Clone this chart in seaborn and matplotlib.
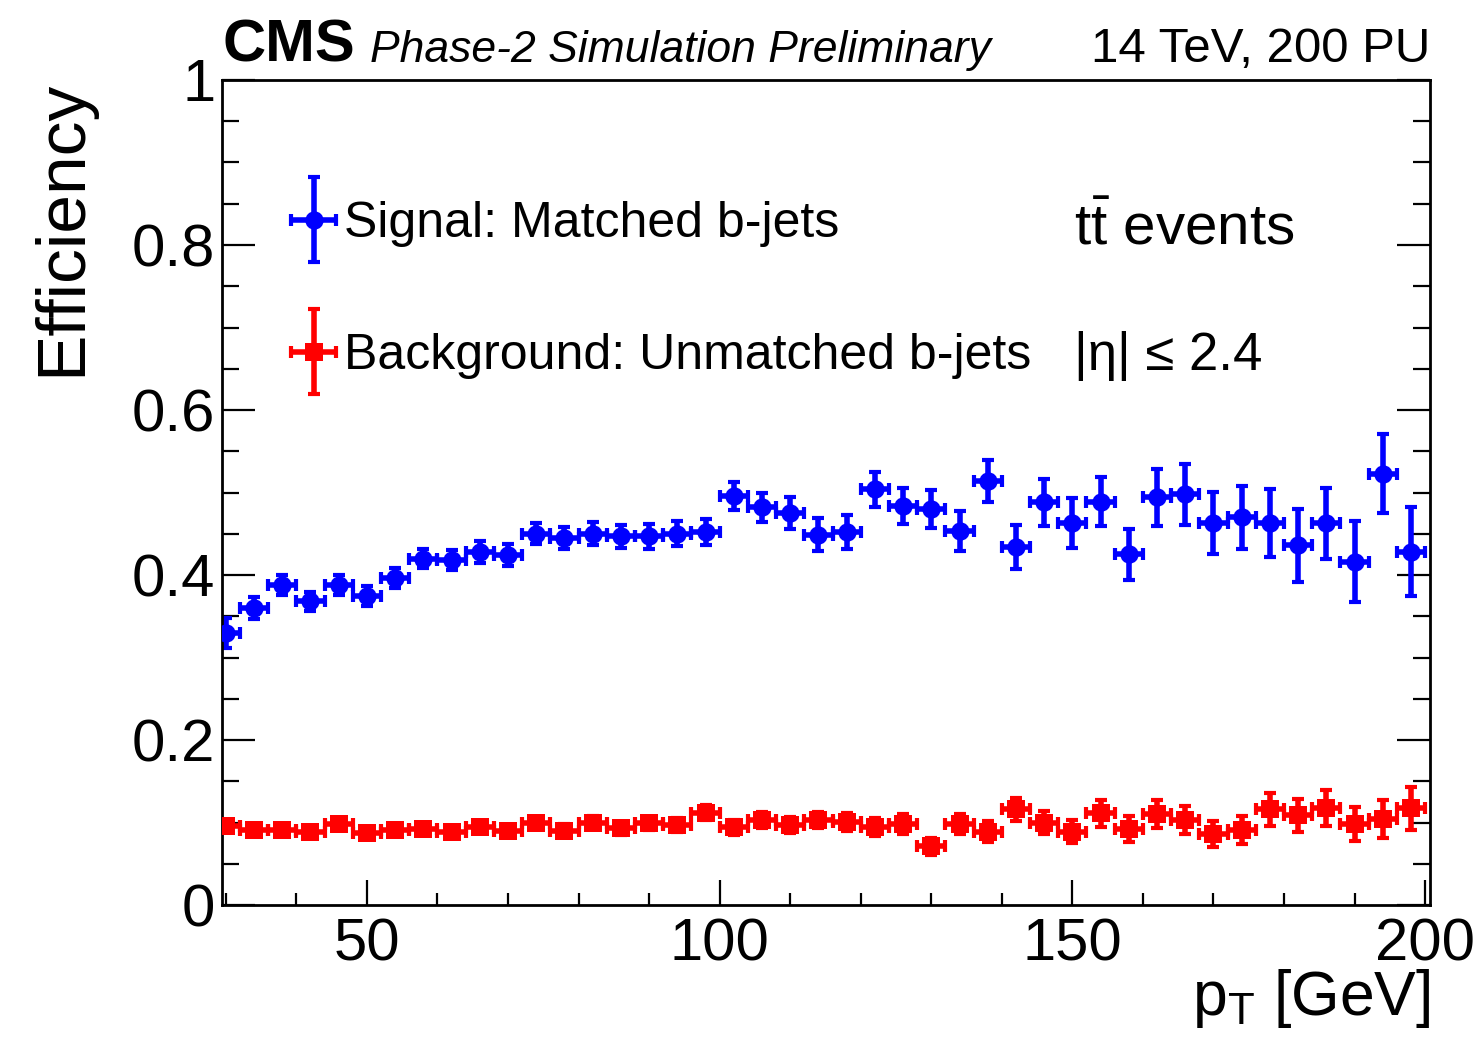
import numpy as np
import pandas as pd
import matplotlib
matplotlib.use("Agg")
import matplotlib.pyplot as plt
from matplotlib.ticker import MultipleLocator, FuncFormatter
from matplotlib.legend_handler import HandlerErrorbar, HandlerTuple
from matplotlib.container import ErrorbarContainer
import seaborn as sns

# Jet pT binning (GeV): 4 GeV wide bins centred at 30, 34, ..., 198
pt_half_width = 2.0
pt_centers = np.arange(30, 199, 4)

# b-tagging efficiency for jets matched to b quarks (signal)
sig_eff = [0.330, 0.360, 0.388, 0.368, 0.388, 0.375, 0.396, 0.420, 0.418, 0.428,
           0.424, 0.450, 0.445, 0.450, 0.447, 0.447, 0.450, 0.452, 0.496, 0.482,
           0.475, 0.449, 0.452, 0.504, 0.484, 0.480, 0.453, 0.514, 0.434, 0.488,
           0.463, 0.489, 0.425, 0.494, 0.498, 0.463, 0.470, 0.463, 0.436, 0.463,
           0.416, 0.523, 0.428]
sig_err = [0.018, 0.013, 0.012, 0.012, 0.012, 0.012, 0.012, 0.012, 0.012, 0.013,
           0.013, 0.013, 0.013, 0.014, 0.014, 0.015, 0.015, 0.016, 0.017, 0.018,
           0.019, 0.020, 0.021, 0.021, 0.022, 0.023, 0.024, 0.026, 0.027, 0.028,
           0.030, 0.030, 0.031, 0.035, 0.037, 0.038, 0.038, 0.041, 0.044, 0.043,
           0.049, 0.048, 0.054]

# mistag rate for unmatched jets (background)
bkg_eff = [0.096, 0.091, 0.091, 0.089, 0.098, 0.087, 0.091, 0.092, 0.088, 0.095,
           0.090, 0.100, 0.090, 0.100, 0.093, 0.099, 0.097, 0.112, 0.094, 0.103,
           0.097, 0.103, 0.101, 0.095, 0.098, 0.071, 0.098, 0.089, 0.116, 0.100,
           0.089, 0.111, 0.092, 0.110, 0.103, 0.086, 0.091, 0.116, 0.109, 0.118,
           0.098, 0.104, 0.117]
bkg_err = [0.006, 0.006, 0.006, 0.006, 0.006, 0.006, 0.006, 0.007, 0.007, 0.007,
           0.007, 0.007, 0.008, 0.008, 0.008, 0.008, 0.009, 0.009, 0.009, 0.010,
           0.010, 0.010, 0.011, 0.011, 0.012, 0.010, 0.012, 0.013, 0.014, 0.014,
           0.014, 0.016, 0.016, 0.017, 0.017, 0.016, 0.017, 0.020, 0.020, 0.022,
           0.021, 0.023, 0.026]

sig_label = "Signal: Matched b-jets"
bkg_label = "Background: Unmatched b-jets"

sns.set_theme(style="ticks")
plt.rcParams.update({
    "mathtext.fontset": "custom",
    "mathtext.rm": "Liberation Sans",
    "mathtext.it": "Liberation Sans:italic",
    "mathtext.bf": "Liberation Sans:bold",
    "mathtext.sf": "Liberation Sans",
    "axes.edgecolor": "black",
    "axes.linewidth": 2.0,
    "xtick.color": "black",
    "ytick.color": "black",
    "text.color": "black",
    "axes.labelcolor": "black",
})
plt.rcParams["font.family"] = ["Liberation Sans", "DejaVu Sans"]

df = pd.DataFrame({
    "pt": np.concatenate([pt_centers, pt_centers]),
    "eff": sig_eff + bkg_eff,
    "err": sig_err + bkg_err,
    "sample": [sig_label] * len(pt_centers) + [bkg_label] * len(pt_centers),
})

fig = plt.figure(figsize=(14.81, 10.47), dpi=100)
ax = fig.add_axes([0.1501, 0.1356, 0.8155, 0.788])

styles = {
    sig_label: dict(color="#0000ff", marker="o"),
    bkg_label: dict(color="#ff0000", marker="s"),
}

handles = []
for name, st in styles.items():
    sub = df[df["sample"] == name]
    eb = ax.errorbar(sub["pt"], sub["eff"], xerr=pt_half_width, yerr=sub["err"],
                     fmt="none", ecolor=st["color"], elinewidth=4.0,
                     capsize=4.5, capthick=3.0, zorder=2)
    n_before = len(ax.collections)
    sns.scatterplot(data=sub, x="pt", y="eff", color=st["color"], marker=st["marker"],
                    s=175, linewidth=0, legend=False, ax=ax, zorder=3)
    sc = ax.collections[n_before]
    handles.append((eb, sc))

ax.set_xlim(29.5, 200.7)
ax.set_ylim(0, 1)
ax.xaxis.set_major_locator(MultipleLocator(50))
ax.xaxis.set_minor_locator(MultipleLocator(10))
ax.yaxis.set_major_locator(MultipleLocator(0.2))
ax.yaxis.set_minor_locator(MultipleLocator(0.05))
ax.yaxis.set_major_formatter(FuncFormatter(
    lambda v, p: "0" if abs(v) < 1e-9 else ("1" if abs(v - 1) < 1e-9 else f"{v:.1f}")))

ax.tick_params(which="both", direction="in", top=False, right=True,
               width=1.6, labelsize=43)
ax.tick_params(axis="y", which="major", length=24, pad=5)
ax.tick_params(axis="y", which="minor", length=12)
ax.tick_params(axis="x", which="major", length=18, pad=9)
ax.tick_params(axis="x", which="minor", length=9)

ax.set_xlabel(r"$\mathrm{p}_{\mathrm{T}}$ [GeV]", fontsize=45, loc="right")
ax.xaxis.set_label_coords(1.0, -0.075)
ax.set_ylabel("Efficiency", fontsize=50, loc="top")
ax.yaxis.set_label_coords(-0.106, 1.0)

# header
ax.text(0.0, 1.022, "CMS", transform=ax.transAxes, fontsize=43,
        fontweight="bold", ha="left", va="baseline")
ax.text(0.1226, 1.022, "Phase-2 Simulation Preliminary", transform=ax.transAxes,
        fontsize=32, style="italic", ha="left", va="baseline")
ax.text(1.0, 1.022, "14 TeV, 200 PU", transform=ax.transAxes, fontsize=35.5,
        ha="right", va="baseline")

# selection info
ax.text(0.705, 0.801, r"$\mathrm{t\bar{t}}$ events", transform=ax.transAxes,
        fontsize=42, ha="left", va="baseline")
ax.text(0.705, 0.648, "|η| ≤ 2.4", transform=ax.transAxes,
        fontsize=38, ha="left", va="baseline")

ax.legend(handles, [sig_label, bkg_label],
          handler_map={ErrorbarContainer: HandlerErrorbar(xerr_size=0.45, yerr_size=0.85),
                       tuple: HandlerTuple(ndivide=1)},
          loc="upper left", bbox_to_anchor=(0.055, 0.853), frameon=False,
          fontsize=36, handlelength=1.0, handletextpad=0.1, labelspacing=1.72,
          borderpad=0, borderaxespad=0, scatterpoints=1, scatteryoffsets=[0.5])

fig.savefig("out.png", dpi=100, facecolor="white")
